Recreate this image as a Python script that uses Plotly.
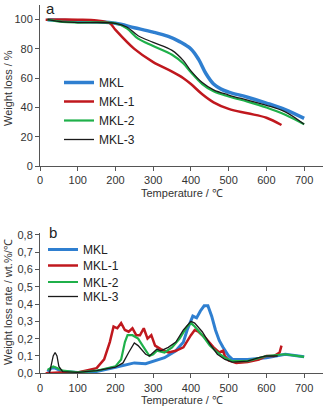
import plotly.graph_objects as go

# ---- TGA (panel a) ----
mkl_t = [20, 100, 150, 200, 250, 300, 340, 370, 400, 420, 440, 460, 480, 500, 550, 600, 650, 700]
mkl_w = [100, 99, 98.5, 97.5, 94.5, 91.5, 88.5, 85, 80, 73, 63, 56, 52.5, 50.5, 47, 43, 38.5, 32.5]
mkl1_t = [15, 100, 150, 185, 200, 250, 300, 350, 380, 400, 430, 460, 500, 550, 600, 640]
mkl1_w = [100, 100, 99.5, 97.5, 93, 80, 71, 64.5, 60, 56, 49, 43.5, 39, 36, 33, 28]
mkl2_t = [20, 60, 100, 200, 230, 260, 300, 350, 380, 400, 430, 460, 500, 550, 600, 650, 700]
mkl2_w = [100, 98.5, 98, 97.5, 94, 87, 82, 76, 70, 64, 56, 51, 47.5, 44, 40, 35, 28.5]
mkl3_t = [20, 60, 100, 200, 230, 260, 300, 350, 380, 400, 430, 460, 500, 550, 600, 650, 700]
mkl3_w = [100, 98.5, 98, 97.5, 95, 89, 84.5, 79, 72, 65, 57, 52, 48.5, 45, 41.5, 37, 28.5]

# ---- DTG (panel b) ----
d_mkl_t = [20, 30, 40, 60, 100, 150, 200, 220, 250, 280, 300, 330, 360, 380, 390, 400, 405, 415, 425, 435,
           445, 455, 465, 475, 485, 500, 510, 550, 600, 650, 700]
d_mkl_r = [0.01, 0.03, 0.03, 0.01, 0.005, 0.01, 0.035, 0.045, 0.06, 0.055, 0.07, 0.09, 0.13, 0.18, 0.25, 0.31,
           0.33, 0.32, 0.36, 0.39, 0.39, 0.33, 0.25, 0.19, 0.15, 0.10, 0.08, 0.08, 0.09, 0.11, 0.095]
d_mkl1_t = [15, 50, 100, 150, 170, 185, 195, 205, 215, 225, 235, 245, 255, 265, 275, 285, 295, 305, 320, 340,
            360, 380, 400, 410, 420, 440, 460, 475, 485, 490, 500, 520, 550, 580, 600, 620, 635, 640]
d_mkl1_r = [0.0, 0.005, 0.005, 0.03, 0.08, 0.18, 0.27, 0.26, 0.29, 0.25, 0.24, 0.26, 0.22, 0.22, 0.26, 0.20,
            0.22, 0.16, 0.14, 0.12, 0.13, 0.15, 0.22, 0.25, 0.24, 0.20, 0.15, 0.12, 0.13, 0.10, 0.075, 0.06,
            0.065, 0.08, 0.10, 0.10, 0.12, 0.16]
d_mkl2_t = [20, 35, 45, 60, 100, 150, 200, 215, 225, 232, 245, 260, 275, 290, 300, 310, 330, 350, 370, 390,
            400, 410, 430, 450, 470, 490, 510, 550, 600, 650, 700]
d_mkl2_r = [0.02, 0.04, 0.03, 0.015, 0.005, 0.015, 0.04, 0.08, 0.18, 0.22, 0.22, 0.20, 0.15, 0.10, 0.11, 0.13,
            0.12, 0.15, 0.20, 0.27, 0.29, 0.27, 0.22, 0.16, 0.12, 0.09, 0.07, 0.07, 0.10, 0.11, 0.095]
d_mkl3_t = [25, 30, 35, 40, 45, 50, 60, 100, 150, 200, 220, 235, 250, 260, 280, 290, 310, 320, 340, 360, 380,
            400, 410, 430, 450, 470, 490, 510, 550, 580, 600, 630]
d_mkl3_r = [0.0, 0.05, 0.10, 0.12, 0.10, 0.04, 0.01, 0.005, 0.015, 0.035, 0.06, 0.12, 0.175, 0.16, 0.11, 0.10,
            0.14, 0.13, 0.15, 0.18, 0.25, 0.30, 0.29, 0.24, 0.17, 0.11, 0.08, 0.065, 0.07, 0.09, 0.10, 0.10]

names = ["MKL", "MKL-1", "MKL-2", "MKL-3"]
colors = ["#2f7fd0", "#c0181e", "#1fb04a", "#1a1a1a"]
widths_a = [3.5, 2.5, 2.2, 1.3]
widths_b = [3, 2.5, 2.2, 1.3]

W, H = 323, 407
# legend item centres (px from top) for each panel
leg_a_y = [82.5, 101.5, 120.5, 139.5]
leg_b_y = [249.5, 265.5, 282, 296.5]
leg_a_x = 59
leg_b_x = 43

fig = go.Figure()
layout_legends = {}
k = 1
for n, t, w, c, lw, ly in zip(names, [mkl_t, mkl1_t, mkl2_t, mkl3_t], [mkl_w, mkl1_w, mkl2_w, mkl3_w], colors,
                              widths_a, leg_a_y):
    lname = "legend" if k == 1 else f"legend{k}"
    fig.add_trace(go.Scatter(x=t, y=w, mode="lines", name=n, line=dict(color=c, width=lw, shape="spline"),
                             xaxis="x", yaxis="y", legend=lname))
    layout_legends[lname] = dict(x=leg_a_x / W, y=1 - ly / H, xanchor="left", yanchor="middle",
                                 bgcolor="rgba(0,0,0,0)", itemwidth=30,
                                 font=dict(family="Liberation Sans, Arial", size=12, color="#222"))
    k += 1
for n, t, r, c, lw, ly in zip(names, [d_mkl_t, d_mkl1_t, d_mkl2_t, d_mkl3_t],
                              [d_mkl_r, d_mkl1_r, d_mkl2_r, d_mkl3_r], colors, widths_b, leg_b_y):
    lname = f"legend{k}"
    fig.add_trace(go.Scatter(x=t, y=r, mode="lines", name=n, line=dict(color=c, width=lw),
                             xaxis="x2", yaxis="y2", legend=lname))
    layout_legends[lname] = dict(x=leg_b_x / W, y=1 - ly / H, xanchor="left", yanchor="middle",
                                 bgcolor="rgba(0,0,0,0)", itemwidth=30,
                                 font=dict(family="Liberation Sans, Arial", size=12, color="#222"))
    k += 1

axfont = dict(family="Liberation Sans, Arial", size=11, color="#333")
common = dict(showgrid=False, zeroline=False, showline=True, linecolor="#555", linewidth=1, automargin=False,
              ticks="outside", ticklen=4, tickcolor="#555", tickfont=axfont)
xdom = [40 / W, 1.0]
fig.update_layout(
    width=W, height=H, margin=dict(l=0, r=0, t=0, b=0, autoexpand=False),
    paper_bgcolor="white", plot_bgcolor="white", separators=",.",
    font=dict(family="Liberation Sans, Arial", color="#222"),
    xaxis=dict(domain=xdom, range=[0, 750], tickvals=[0, 100, 200, 300, 400, 500, 600, 700], anchor="y", **common),
    yaxis=dict(domain=[1 - 166 / H, 1 - 5 / H], range=[0, 110], tickvals=[0, 20, 40, 60, 80, 100], anchor="x", **common),
    xaxis2=dict(domain=xdom, range=[0, 750], tickvals=[0, 100, 200, 300, 400, 500, 600, 700], anchor="y2", **common),
    yaxis2=dict(domain=[1 - 373.3 / H, 1 - 233 / H], range=[0, 0.81], tickvals=[0, 0.1, 0.2, 0.3, 0.4, 0.5, 0.6, 0.7, 0.8],
                tickformat=".1f", anchor="x2", **common),
    showlegend=True,
    **layout_legends,
)
ann = dict(xref="paper", yref="paper", showarrow=False, font=dict(family="Liberation Sans, Arial", size=11, color="#333"))
fig.add_annotation(x=182 / W, y=1 - 193 / H, text="Temperature / ℃", xanchor="center", yanchor="middle", **ann)
fig.add_annotation(x=182 / W, y=1 - 400 / H, text="Temperature / ℃", xanchor="center", yanchor="middle", **ann)
fig.add_annotation(x=8 / W, y=1 - 88 / H, text="Weight loss / %", textangle=-90, xanchor="center", yanchor="middle", **ann)
fig.add_annotation(x=8 / W, y=1 - 302 / H, text="Weight loss rate / wt.%/℃", textangle=-90, xanchor="center", yanchor="middle", **ann)
lab = dict(xref="paper", yref="paper", showarrow=False, font=dict(family="Liberation Sans, Arial", size=15, color="#222"))
fig.add_annotation(x=50 / W, y=1 - 8 / H, text="a", xanchor="center", yanchor="middle", **lab)
fig.add_annotation(x=53 / W, y=1 - 232 / H, text="b", xanchor="center", yanchor="middle", **lab)

fig.write_html("out.html", config={"displayModeBar": False, "staticPlot": True},
               post_script="document.body.style.margin='0';document.body.style.overflow='hidden';")
